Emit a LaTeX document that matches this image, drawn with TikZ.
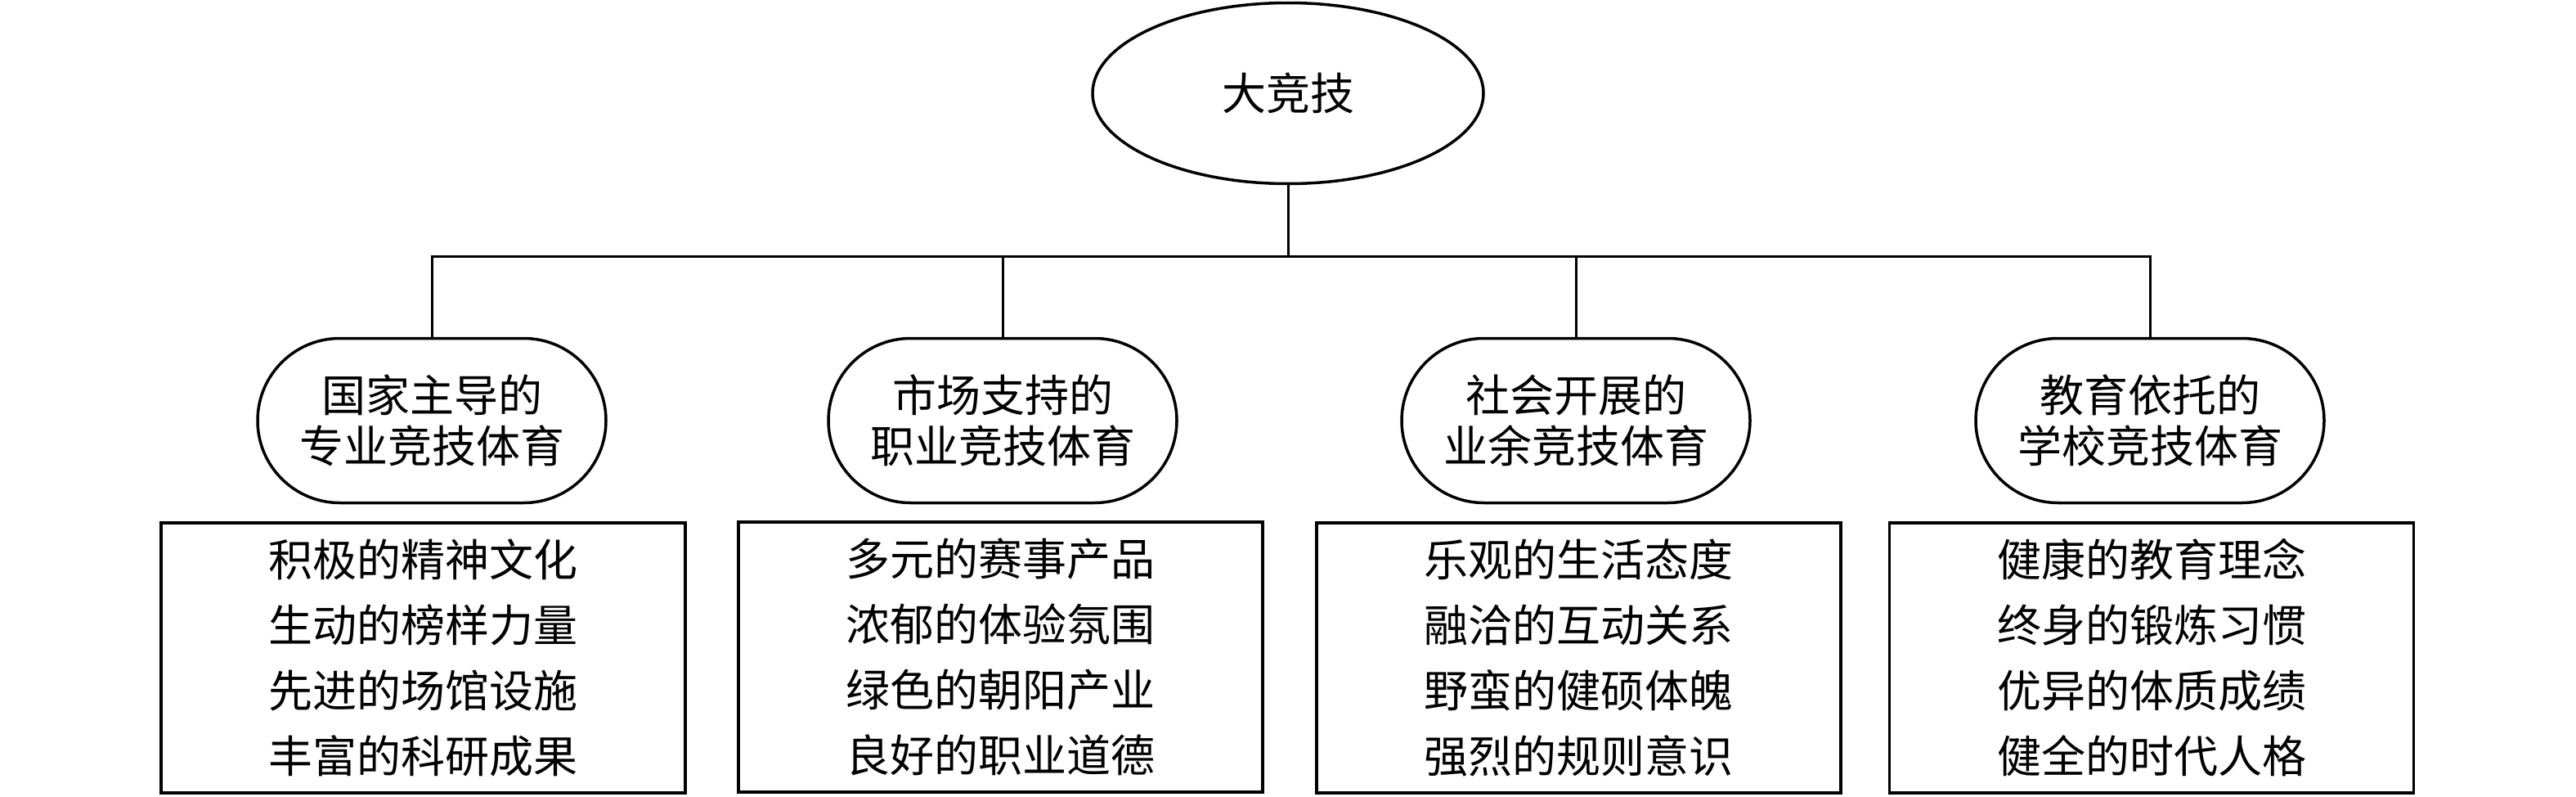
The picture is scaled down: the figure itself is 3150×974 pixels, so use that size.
\documentclass[tikz,border=0pt]{standalone}
\usepackage{fontspec}
\newfontfamily\cjk{Noto Sans CJK SC}
\usetikzlibrary{shapes.geometric,shapes.misc}
\begin{document}
\begin{tikzpicture}[x=1pt,y=-1pt,
  every node/.style={font=\cjk\fontsize{54}{62}\selectfont},
  topnode/.style={draw, ellipse, line width=3.5pt, minimum width=478pt, minimum height=221pt, inner sep=0pt},
  midnode/.style={draw, rounded rectangle, line width=3.5pt, minimum width=426pt, minimum height=201pt, align=center, inner sep=0pt},
  listbox/.style={draw, rectangle, line width=3.5pt, minimum width=641pt, minimum height=330pt, align=center, inner sep=0pt, font=\cjk\fontsize{54}{80}\selectfont},
  link/.style={line width=3pt}]
\useasboundingbox (0,0) rectangle (3150,974);

\node[topnode] (root) at (1575,114) {大竞技};

\node[midnode] (a) at (528,514) {国家主导的\\专业竞技体育};
\node[midnode] (b) at (1226,514) {市场支持的\\职业竞技体育};
\node[midnode] (c) at (1927,514) {社会开展的\\业余竞技体育};
\node[midnode] (d) at (2629,514) {教育依托的\\学校竞技体育};

\node[listbox] (A) at (517.5,804) {积极的精神文化\\生动的榜样力量\\先进的场馆设施\\丰富的科研成果};
\node[listbox] (B) at (1223.5,803) {多元的赛事产品\\浓郁的体验氛围\\绿色的朝阳产业\\良好的职业道德};
\node[listbox] (C) at (1930.5,804) {乐观的生活态度\\融洽的互动关系\\野蛮的健硕体魄\\强烈的规则意识};
\node[listbox] (D) at (2631,804) {健康的教育理念\\终身的锻炼习惯\\优异的体质成绩\\健全的时代人格};

\coordinate (bar) at (1575,313);
\draw[link] (root.south) -- (root.south |- bar);
\draw[link] (a.north) -- (a.north |- bar) -| (d.north);
\draw[link] (b.north) -- (b.north |- bar);
\draw[link] (c.north) -- (c.north |- bar);
\end{tikzpicture}
\end{document}
